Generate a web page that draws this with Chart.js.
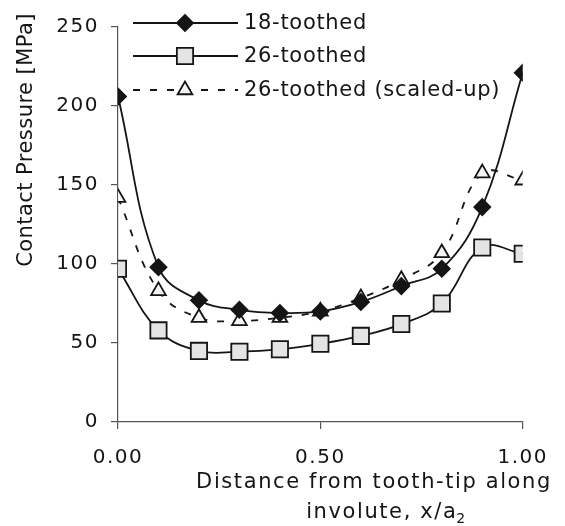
<!DOCTYPE html>
<html><head><meta charset="utf-8">
<script src="https://cdn.jsdelivr.net/npm/chart.js"></script>
<style>html,body{margin:0;padding:0;background:#fff;}</style>
</head><body>
<canvas id="c" width="565" height="526" style="display:block;width:565px;height:526px"></canvas>
<script>
// ---- data ----
const xValues = [0, 0.1, 0.2, 0.3, 0.4, 0.5, 0.6, 0.7, 0.8, 0.9, 1.0];
const tooth18 = [206, 98, 77, 71, 69, 70, 76, 86, 97, 136, 221];
const tooth26 = [97, 58, 45, 44.5, 46, 49.5, 54.5, 62, 75, 110.5, 106.5];
const tooth26Scaled = [142, 83, 66, 64, 66, 70, 78.5, 90, 107, 157.5, 153];
const seriesNames = ['18-toothed', '26-toothed', '26-toothed (scaled-up)'];
const xTickValues = [0, 0.5, 1];
const yMin = 0, yMax = 250, yStep = 50;
const yTitle = 'Contact Pressure [MPa]';
const xTitleLine1 = 'Distance from tooth-tip along';
const xTitleLine2 = 'involute, x/a';
const xTitleSub = '2';

const FONT = '"DejaVu Sans", sans-serif';
const INK = '#151515';
const AXIS = '#555';

const styles = [
  {pointStyle: 'rectRot', radius: 8, bg: INK, dash: []},
  {pointStyle: 'rect', radius: 11.5, bg: '#e4e4e4', dash: []},
  {pointStyle: 'triangle', radius: 8.5, bg: '#f4f4f4', dash: [7, 10]}
];
const seriesValues = [tooth18, tooth26, tooth26Scaled];

const datasets = seriesValues.map((vals, i) => ({
  label: seriesNames[i],
  data: xValues.map((x, j) => ({x: x, y: vals[j]})),
  borderColor: INK,
  borderWidth: 1.8,
  borderDash: styles[i].dash,
  tension: 0.4,
  pointStyle: styles[i].pointStyle,
  pointRadius: styles[i].radius,
  pointBackgroundColor: styles[i].bg,
  pointBorderColor: INK,
  pointBorderWidth: 1.8,
  fill: false
}));
datasets[0].order = 0; datasets[1].order = 2; datasets[2].order = 1;

function drawMarker(ctx, style, r, x, y, bg) {
  ctx.save();
  ctx.setLineDash([]);
  ctx.fillStyle = bg; ctx.strokeStyle = INK; ctx.lineWidth = 1.8;
  ctx.beginPath();
  if (style === 'rectRot') {
    ctx.moveTo(x - r, y); ctx.lineTo(x, y - r); ctx.lineTo(x + r, y); ctx.lineTo(x, y + r); ctx.closePath();
  } else if (style === 'rect') {
    const s = r * Math.SQRT1_2; ctx.rect(x - s, y - s, 2 * s, 2 * s);
  } else {
    const w = r * Math.sqrt(3) / 2;
    ctx.moveTo(x - w, y + r / 2); ctx.lineTo(x, y - r); ctx.lineTo(x + w, y + r / 2); ctx.closePath();
  }
  ctx.fill(); ctx.stroke();
  ctx.restore();
}

const textPlugin = {
  id: 'txt',
  beforeUpdate(chart) { chart.ctx.letterSpacing = '1.5px'; },
  beforeDraw(chart) { chart.ctx.letterSpacing = '1.5px'; },
  afterDraw(chart) {
    const ctx = chart.ctx;
    const rows = [23, 56, 90];
    ctx.save();
    for (let i = 0; i < 3; i++) {
      const y = rows[i];
      ctx.strokeStyle = INK; ctx.lineWidth = 1.8;
      ctx.setLineDash(styles[i].dash);
      ctx.beginPath(); ctx.moveTo(133, y); ctx.lineTo(238, y); ctx.stroke();
      drawMarker(ctx, styles[i].pointStyle, styles[i].radius, 185, y, styles[i].bg);
      ctx.letterSpacing = '0.7px';
      ctx.font = '21px ' + FONT;
      ctx.fillStyle = INK; ctx.textAlign = 'left'; ctx.textBaseline = 'middle';
      ctx.fillText(seriesNames[i], 244, y + 1);
    }
    ctx.restore();

    ctx.save();
    ctx.letterSpacing = '0.45px';
    ctx.font = '21px ' + FONT;
    ctx.fillStyle = INK; ctx.textAlign = 'center'; ctx.textBaseline = 'middle';
    ctx.translate(27, 140); ctx.rotate(-Math.PI / 2);
    ctx.fillText(yTitle, 0, 0);
    ctx.restore();

    ctx.save();
    ctx.letterSpacing = '1.6px';
    ctx.font = '21px ' + FONT;
    ctx.fillStyle = INK; ctx.textBaseline = 'middle'; ctx.textAlign = 'center';
    ctx.fillText(xTitleLine1, 374, 483);
    ctx.textAlign = 'left';
    const w1 = ctx.measureText(xTitleLine2).width;
    ctx.font = '14px ' + FONT;
    const w2 = ctx.measureText(xTitleSub).width;
    const startX = 387 - (w1 + w2) / 2;
    ctx.font = '21px ' + FONT;
    ctx.fillText(xTitleLine2, startX, 513);
    ctx.font = '14px ' + FONT;
    ctx.fillText(xTitleSub, startX + w1 - 1, 519);
    ctx.restore();
  }
};

const tickFont = {family: FONT, size: 20};
new Chart(document.getElementById('c'), {
  type: 'line',
  data: {datasets: datasets},
  plugins: [textPlugin],
  options: {
    responsive: false,
    animation: false,
    devicePixelRatio: 1,
    layout: {padding: {left: 0, top: 27, right: 29, bottom: 0}},
    plugins: {legend: {display: false}, tooltip: {enabled: false}},
    scales: {
      x: {
        type: 'linear', min: 0, max: 1,
        afterBuildTicks(scale) { scale.ticks = xTickValues.map(v => ({value: v})); },
        afterFit(scale) { scale.height = 104; },
        ticks: {font: tickFont, color: INK, padding: 17, maxRotation: 0,
                callback: v => Number(v).toFixed(2)},
        grid: {drawOnChartArea: false, tickLength: 7, color: AXIS, lineWidth: 1.2},
        border: {color: AXIS, width: 1.2}
      },
      y: {
        min: yMin, max: yMax,
        afterFit(scale) { scale.width = 118; },
        ticks: {stepSize: yStep, font: tickFont, color: INK, padding: 12},
        grid: {drawOnChartArea: false, tickLength: 7, color: AXIS, lineWidth: 1.2},
        border: {color: AXIS, width: 1.2}
      }
    }
  }
});
</script>
</body></html>
